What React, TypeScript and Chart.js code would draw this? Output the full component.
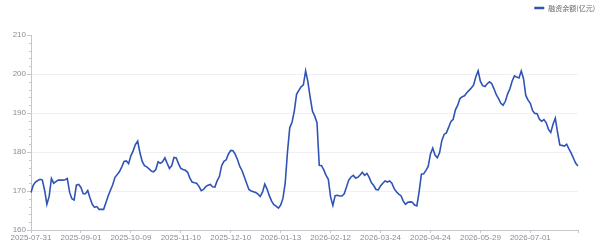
import React, { useEffect, useRef } from "react";
import { Chart, registerables } from "chart.js";

Chart.register(...registerables);

// Trading-day calendar (SSE/SZSE closures)
const startDate = "2025-07-31";
const endDate = "2026-07-30";
const holidays = [
  "2025-10-01", "2025-10-02", "2025-10-03", "2025-10-06", "2025-10-07", "2025-10-08",
  "2026-01-01", "2026-01-02",
  "2026-02-16", "2026-02-17", "2026-02-18", "2026-02-19", "2026-02-20", "2026-02-23",
  "2026-04-06", "2026-05-01", "2026-05-04", "2026-05-05", "2026-06-19",
];
const tickLabels = [
  "2025-07-31", "2025-09-01", "2025-10-09", "2025-11-10", "2025-12-10", "2026-01-13",
  "2026-02-12", "2026-03-24", "2026-04-24", "2026-05-29", "2026-07-01",
];
const seriesName = "融资余额(亿元)";
const financingBalance = [
  169.6, 171.5, 172.3, 172.7, 173.0, 172.8, 170.2, 166.6, 168.6, 173.2,
  172.0, 172.4, 172.8, 172.8, 172.8, 172.9, 173.2, 169.7, 168.0, 167.7,
  171.5, 171.7, 170.9, 169.3, 169.3, 170.1, 168.2, 166.6, 165.8, 166.0,
  165.3, 165.3, 165.3, 167.0, 168.7, 170.2, 171.6, 173.5, 174.2, 175.0,
  176.2, 177.6, 177.7, 177.0, 179.0, 180.3, 181.9, 182.8, 179.8, 177.6,
  176.5, 176.2, 175.7, 175.1, 174.9, 175.5, 177.5, 177.1, 177.5, 178.5,
  177.1, 175.8, 176.5, 178.6, 178.5, 177.0, 175.8, 175.5, 175.3, 174.8,
  173.3, 172.3, 172.1, 172.0, 171.2, 170.1, 170.4, 171.1, 171.5, 171.7,
  171.1, 171.0, 172.6, 173.7, 176.5, 177.6, 178.0, 179.5, 180.4, 180.3,
  179.4, 178.0, 176.3, 175.2, 173.6, 172.0, 170.4, 170.0, 169.8, 169.6,
  169.2, 168.6, 169.7, 171.8, 170.5, 168.8, 167.4, 166.5, 166.1, 165.6,
  166.4, 168.1, 172.0, 180.0, 186.2, 187.6, 190.5, 194.8, 195.8, 196.7,
  197.2, 200.8, 198.0, 194.0, 190.5, 189.2, 187.5, 176.6, 176.5, 175.4,
  174.0, 173.0, 168.5, 166.3, 168.8, 168.9, 168.7, 168.7, 169.3, 171.0,
  172.8, 173.6, 174.0, 173.3, 173.5, 174.1, 174.8, 174.0, 174.5, 173.5,
  172.1, 171.4, 170.4, 170.3, 171.3, 172.0, 172.6, 172.3, 172.6, 172.0,
  170.6, 169.8, 169.2, 168.8, 167.4, 166.6, 167.1, 167.2, 167.1, 166.4,
  166.2, 169.8, 174.3, 174.4, 175.3, 176.3, 179.5, 181.0, 179.2, 178.5,
  179.8, 182.9, 184.5, 184.9, 186.3, 187.8, 188.4, 190.8, 192.0, 193.7,
  194.2, 194.4, 195.2, 195.8, 196.4, 197.2, 199.3, 200.8, 198.1, 197.0,
  196.8, 197.5, 198.0, 197.5, 196.2, 194.7, 193.7, 192.5, 192.0, 193.0,
  194.9, 196.2, 198.2, 199.5, 199.2, 199.0, 200.8, 198.8, 194.5, 193.3,
  192.5, 190.6, 189.9, 189.8, 188.4, 187.9, 188.3, 187.5, 185.8, 185.0,
  187.1, 188.7, 185.0, 181.8, 181.7, 181.5, 182.0, 180.8, 179.7, 178.4,
  177.1, 176.4,
];
const yTicks = [160, 170, 180, 190, 200, 210];

function tradingDays(): string[] {
  const out: string[] = [];
  const d = new Date(startDate + "T00:00:00Z");
  const end = new Date(endDate + "T00:00:00Z");
  while (d <= end) {
    const s = d.toISOString().slice(0, 10);
    const wd = d.getUTCDay();
    if (wd !== 0 && wd !== 6 && !holidays.includes(s)) out.push(s);
    d.setUTCDate(d.getUTCDate() + 1);
  }
  return out;
}

const LINE = "#2f54b5";
const AXIS = "#c4c7cc";
const TEXT = "#8a8d93";

export default function App() {
  const ref = useRef<HTMLCanvasElement>(null);
  useEffect(() => {
    const labels = tradingDays();
    const legendPlugin = {
      id: "legendDraw",
      afterDraw(chart: any) {
        const ctx = chart.ctx;
        ctx.save();
        ctx.font = "7px 'Noto Sans CJK SC', sans-serif";
        ctx.textBaseline = "middle";
        ctx.textAlign = "right";
        const right = 595;
        const w = ctx.measureText(seriesName).width;
        ctx.fillStyle = "#666";
        ctx.fillText(seriesName, right, 8.5);
        const lx = right - w - 4;
        ctx.strokeStyle = LINE;
        ctx.lineWidth = 2.5;
        ctx.beginPath();
        ctx.moveTo(lx - 10, 8);
        ctx.lineTo(lx, 8);
        ctx.stroke();
        ctx.restore();
      },
    };
    const minorTicks = {
      id: "minorTicks",
      afterDraw(chart: any) {
        const y = chart.scales.y;
        const ctx = chart.ctx;
        const x0 = chart.chartArea.left;
        ctx.save();
        ctx.strokeStyle = AXIS;
        ctx.lineWidth = 1;
        for (let v = yTicks[0]; v <= yTicks[yTicks.length - 1]; v += 2) {
          if (v % 10 === 0) continue;
          const py = Math.round(y.getPixelForValue(v)) + 0.5;
          ctx.beginPath();
          ctx.moveTo(x0 - 2, py);
          ctx.lineTo(x0, py);
          ctx.stroke();
        }
        const xr = Math.round(chart.chartArea.right) + 0.5;
        const yb = chart.chartArea.bottom;
        ctx.beginPath();
        ctx.moveTo(xr, yb);
        ctx.lineTo(xr, yb + 3);
        ctx.stroke();
        ctx.restore();
      },
    };
    const chart = new Chart(ref.current!, {
      type: "line",
      data: {
        labels,
        datasets: [
          {
            label: seriesName,
            data: financingBalance,
            borderColor: LINE,
            backgroundColor: LINE,
            borderWidth: 1.6,
            pointRadius: 0,
            tension: 0,
          },
        ],
      },
      options: {
        animation: false,
        responsive: true,
        maintainAspectRatio: false,
        layout: { padding: { top: 35, right: 22, left: 0, bottom: 0 } },
        plugins: { legend: { display: false }, tooltip: { enabled: false } },
        scales: {
          x: {
            type: "category",
            offset: false,
            afterFit: (s: any) => {
              s.height = 17;
            },
            grid: {
              drawOnChartArea: false,
              drawTicks: true,
              tickLength: 3,
              tickColor: AXIS,
            },
            border: { color: AXIS },
            ticks: {
              autoSkip: false,
              maxRotation: 0,
              minRotation: 0,
              padding: 0,
              color: TEXT,
              font: { size: 8, family: "'Liberation Sans', sans-serif" },
              callback: (_v: any, i: number) => {
                const l = labels[i];
                return tickLabels.includes(l) ? l : null;
              },
            },
          },
          y: {
            min: yTicks[0],
            max: yTicks[yTicks.length - 1],
            afterFit: (s: any) => {
              s.width = 31;
            },
            afterBuildTicks: (s: any) => {
              s.ticks = yTicks.map((v) => ({ value: v }));
            },
            grid: {
              color: (c: any) => (c.tick && c.tick.value === yTicks[yTicks.length - 1] ? "rgba(0,0,0,0)" : "#eef0f4"),
              tickColor: AXIS,
              tickLength: 4,
            },
            border: { color: AXIS },
            ticks: {
              padding: 1,
              color: TEXT,
              font: { size: 8, family: "'Liberation Sans', sans-serif" },
            },
          },
        },
      },
      plugins: [legendPlugin, minorTicks],
    });
    return () => chart.destroy();
  }, []);
  return (
    <div style={{ position: "fixed", left: 0, top: 0, width: 600, height: 247, background: "#fff" }}>
      <canvas ref={ref} />
    </div>
  );
}
